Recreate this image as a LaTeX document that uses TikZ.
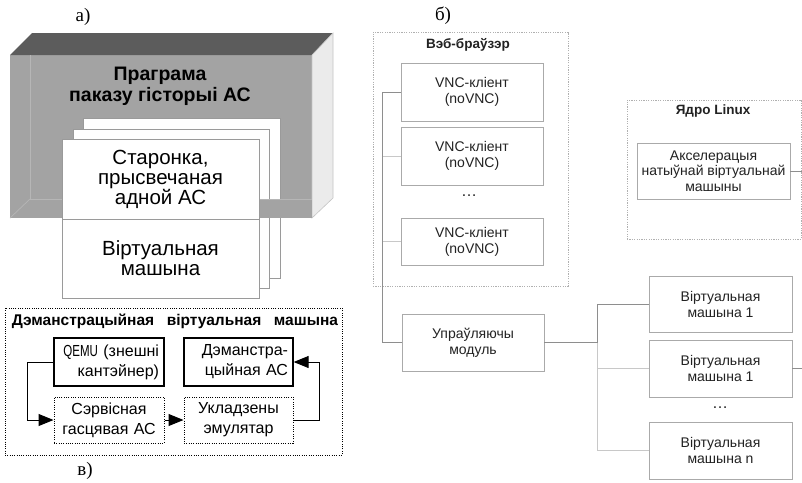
\documentclass[tikz,border=0pt]{standalone}
\usepackage{fontspec}
\usepackage{graphicx}
\setmainfont{Liberation Sans}
\newfontfamily\lblfont{Liberation Serif}
\usetikzlibrary{arrows.meta,calc}

\definecolor{trayfront}{HTML}{A3A3A3}
\definecolor{traytop}{HTML}{5C5C5C}
\definecolor{trayside}{HTML}{EBEBEB}
\definecolor{traysideedge}{HTML}{C4C4C4}
\definecolor{trayinner}{HTML}{B6B6B6}
\definecolor{cardedge}{HTML}{9A9A9A}
\definecolor{boxgray}{HTML}{AAAAAA}
\definecolor{dotgray}{HTML}{B0B0B0}
\definecolor{wiredark}{HTML}{8E8E8E}
\definecolor{wirelite}{HTML}{C8C8C8}
\definecolor{textcol}{HTML}{222222}

\begin{document}
\begin{tikzpicture}[x=1pt,y=-1pt,
  card/.style={draw=cardedge, fill=white, line width=0.7pt, inner sep=0pt},
  cardtext/.style={font=\fontsize{20.5}{20}\selectfont, align=center},
  trayline/.style={draw=trayinner, line width=0.7pt},
  demobox/.style={draw=black, line width=1.3pt, minimum height=48pt, inner xsep=5pt, inner ysep=0pt, font=\fontsize{16}{20}\selectfont},
  demodot/.style={draw=black, line width=1pt, dash pattern=on 1pt off 1.3pt, minimum height=46pt, inner xsep=5pt, inner ysep=0pt, font=\fontsize{16}{20}\selectfont, align=center},
  flow/.style={line width=1pt, -{Triangle[length=15pt,width=12pt]}},
  gbox/.style={draw=boxgray, fill=white, line width=0.8pt, inner sep=0pt, font=\fontsize{14}{16}\selectfont, text=textcol, align=center},
  gframe/.style={draw=dotgray, line width=0.7pt, dash pattern=on 1.2pt off 1.2pt, inner sep=0pt},
  gtitle/.style={font=\bfseries\fontsize{13.5}{16}\selectfont, text=textcol},
  wire/.style={draw=wiredark, line width=0.8pt},
  wirelight/.style={draw=wirelite, line width=0.8pt},
  tag/.style={font=\lblfont\fontsize{19}{20}\selectfont}
]
\useasboundingbox (0,0) rectangle (802,482);

% ---------- а) the programme as an open tray holding the pages ----------
\node[tag] (taga) at (83,17) {а)};
\fill[trayfront] (10,55) rectangle (312,218);
\fill[traytop] (10,55) -- (32,33) -- (333,33) -- (312,55) -- cycle;
\filldraw[fill=trayside, draw=traysideedge, line width=0.6pt]
  (312,55) -- (333,33) -- (333,198) -- (312,218) -- cycle;
\draw[trayline] (30,55) -- (30,199);
\node[font=\bfseries\fontsize{19.5}{21}\selectfont, align=center] (prog) at (160,86)
  {Праграма\\паказу гісторыі АС};
% pages stacked behind the front one
\node[card, minimum width=197pt, minimum height=160pt] (pg3) at (181.5,198) {};
\node[card, minimum width=196pt, minimum height=159pt] (pg2) at (171,208.5) {};
% front lip of the tray
\fill[trayfront] (10,199) rectangle (312,218);
\draw[trayline] (30,199) -- (312,199);
\draw[trayline] (30,199) -- (10,218);
% front page
\node[card, cardtext, minimum width=197pt, minimum height=80pt] (page) at (160.5,179)
  {Старонка,\\прысвечаная\\адной АС};
\node[card, cardtext, minimum width=197pt, minimum height=79pt] (vmach) at (160.5,258.5)
  {Віртуальная\\машына};

% ---------- в) demonstration virtual machine ----------
\node[draw=black, line width=1pt, dash pattern=on 1pt off 1.3pt,
  minimum width=337pt, minimum height=147pt, inner sep=0pt] (demo) at (173.5,381.5) {};
\node[font=\bfseries\fontsize{15.5}{17}\selectfont] (demotitle) at (175,321)
  {\makebox[326pt]{Дэманстрацыйная\hfill віртуальная\hfill машына}};
\node[demobox, text width=100pt, align=right] (qemu) at (109,362)
  {\scalebox{0.72}[1]{QEMU} (знешні\\кантэйнер)};
\node[demobox, text width=99pt, align=right] (das) at (238.5,362)
  {Дэманстра-\\цыйная АС};
\node[demodot, text width=100pt] (svc) at (109,420) {Сэрвісная\\гасцявая АС};
\node[demodot, text width=99pt] (emu) at (238.5,420) {Укладзены\\эмулятар};
\draw[flow] (qemu.west) -- ++(-26,0) |- (svc.west);
\draw[flow] (svc.east) -- (emu.west);
\draw[flow] (emu.east) -- ++(26,0) |- (das.east);
\node[tag] (tagv) at (85,471) {в)};

% ---------- б) web access to the virtual machines ----------
\node[tag] (tagb) at (443,16) {б)};
\node[gframe, minimum width=195pt, minimum height=254pt] (web) at (470.5,159) {};
\node[gtitle] (webtitle) at (468,45) {Вэб-браўзэр};
\node[gbox, minimum width=142pt, minimum height=58pt] (vnc1) at (472,92) {VNC-кліент\\(noVNC)};
\node[gbox, minimum width=142pt, minimum height=58pt] (vnc2) at (472,156) {VNC-кліент\\(noVNC)};
\node[font=\fontsize{16}{16}\selectfont, text=textcol] (vncdots) at (469,196) {…};
\node[gbox, minimum width=142pt, minimum height=47pt] (vnc3) at (472,241.5) {VNC-кліент\\(noVNC)};

\node[gframe, minimum width=174.5pt, minimum height=139pt] (linux) at (714.25,169.5) {};
\node[gtitle] (linuxtitle) at (713,111) {Ядро Linux};
\node[gbox, minimum width=153pt, minimum height=56pt, font=\fontsize{14}{15.5}\selectfont] (accel) at (713.5,171)
  {Акселерацыя\\натыўнай віртуальнай\\машыны};

\node[gbox, minimum width=142pt, minimum height=57pt] (ctrl) at (473,342.5) {Упраўляючы\\модуль};

\node[gbox, minimum width=143pt, minimum height=56pt] (vm1) at (720.5,304) {Віртуальная\\машына 1};
\node[gbox, minimum width=143pt, minimum height=57pt] (vm2) at (720.5,368.5) {Віртуальная\\машына 1};
\node[font=\fontsize{16}{16}\selectfont, text=textcol] (vmdots) at (720,408) {…};
\node[gbox, minimum width=143pt, minimum height=57pt] (vmn) at (720.5,450.5) {Віртуальная\\машына n};

% wiring of the browser clients to the control module
\draw[wire] (vnc1.west) -- ++(-18,0) |- (ctrl.west);
\draw[wirelight] (vnc2.west) -- ++(-18,0);
\draw[wirelight] (vnc3.west) -- ++(-18,0);
% control module to the virtual machines
\coordinate (hub) at (597,342.5);
\draw[wire] (ctrl.east) -- (hub);
\draw[wire] (vm1.west) -| (hub);
\draw[wirelight] (vm2.west) -- (vm2.west -| hub);
\draw[wirelight] (vmn.west) -| (hub);
% links leaving on the right
\coordinate (accout) at (802,171);
\coordinate (vmout) at (802,368.5);
\draw[wire] (accel.east) -- (accout);
\draw[wire] (vm2.east) -- (vmout);
\end{tikzpicture}
\end{document}
